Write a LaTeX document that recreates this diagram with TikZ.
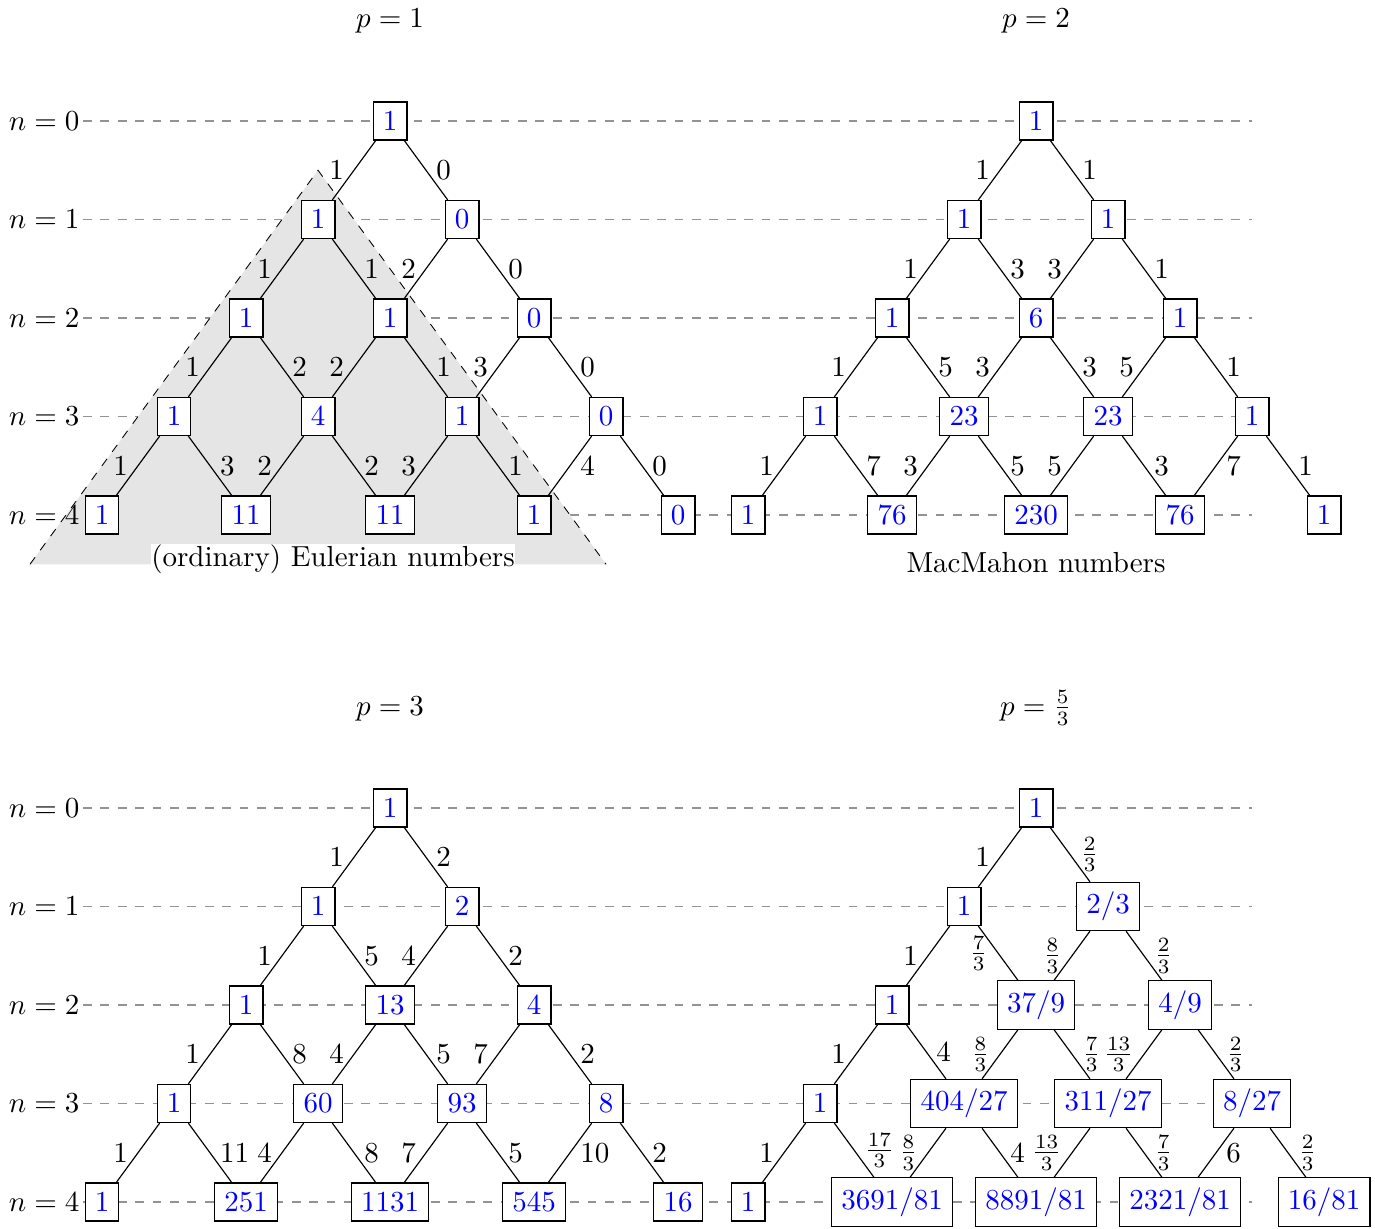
\documentclass[tikz,border=0pt]{standalone}
\pgfdeclarelayer{rowlayer}
\pgfdeclarelayer{trilayer}
\pgfsetlayers{rowlayer,trilayer,main}
\begin{document}
\begin{tikzpicture}[x=0.34483pt, y=-0.34483pt,
  val/.style={draw, fill=white, text=blue},
  rowline/.style={dashed, gray!85},
  lab/.style={midway, anchor=#1},
  title/.style={anchor=base}]
\useasboundingbox (0,0) rectangle (1375,1228);

% titles
\node[title] (tA) at (390,28) {$p=1$};
\node[title] (tB) at (1036,28) {$p=2$};
\node[title] (tC) at (390,715) {$p=3$};
\node[title] (tD) at (1036,715) {$p=\frac{5}{3}$};

% row labels and dashed row lines
\foreach \oy/\r in {121/u, 808/d} {
  \foreach \n in {0,...,4} {
    \pgfmathsetmacro\yy{\oy+98.5*\n}
    \node[anchor=east, inner sep=1pt] (row\r\n) at (83,\yy) {$n=\n$};
    \coordinate (end\r\n) at (1252,\yy);
    \begin{pgfonlayer}{rowlayer}
      \draw[rowline] (row\r\n.east) -- (end\r\n);
    \end{pgfonlayer}
  }
}

% grey triangle (ordinary Eulerian numbers)
\coordinate (triA) at (318,170.25);
\coordinate (triL) at (30,564.25);
\coordinate (triR) at (606,564.25);
\begin{pgfonlayer}{trilayer}
  \fill[gray!20] (triA) -- (triL) -- (triR) -- cycle;
  \draw[dashed, line width=0.3pt] (triL) -- (triA) -- (triR);
\end{pgfonlayer}
\node[anchor=base, fill=white, inner sep=0pt] (eul) at (333,566) {(ordinary) Eulerian numbers};
\node[anchor=base] (mac) at (1036,572) {MacMahon numbers};

% ---------- tree A : p = 1 ----------
\foreach \n/\k/\v in {0/0/1, 1/0/1, 1/1/0, 2/0/1, 2/1/1, 2/2/0, 3/0/1, 3/1/4, 3/2/1, 3/3/0,
                      4/0/1, 4/1/11, 4/2/11, 4/3/1, 4/4/0}
  \node[val] (A-\n-\k) at ({390-72*\n+144*\k},{121+98.5*\n}) {$\v$};
\foreach \n/\k/\a/\sa/\b/\sb in {0/0/1/east/0/west, 1/0/1/east/1/west, 1/1/2/east/0/west,
    2/0/1/east/2/west, 2/1/2/east/1/west, 2/2/3/east/0/west,
    3/0/1/east/3/west, 3/1/2/east/2/west, 3/2/3/east/1/west, 3/3/4/west/0/west} {
  \pgfmathtruncatemacro\m{\n+1}
  \pgfmathtruncatemacro\j{\k+1}
  \draw (A-\n-\k) -- node[lab=\sa] {$\a$} (A-\m-\k);
  \draw (A-\n-\k) -- node[lab=\sb] {$\b$} (A-\m-\j);
}

% ---------- tree B : p = 2 ----------
\foreach \n/\k/\v in {0/0/1, 1/0/1, 1/1/1, 2/0/1, 2/1/6, 2/2/1, 3/0/1, 3/1/23, 3/2/23, 3/3/1,
                      4/0/1, 4/1/76, 4/2/230, 4/3/76, 4/4/1}
  \node[val] (B-\n-\k) at ({1036-72*\n+144*\k},{121+98.5*\n}) {$\v$};
\foreach \n/\k/\a/\sa/\b/\sb in {0/0/1/east/1/west, 1/0/1/east/3/west, 1/1/3/east/1/west,
    2/0/1/east/5/west, 2/1/3/east/3/west, 2/2/5/east/1/west,
    3/0/1/east/7/west, 3/1/3/east/5/west, 3/2/5/east/3/west, 3/3/7/west/1/west} {
  \pgfmathtruncatemacro\m{\n+1}
  \pgfmathtruncatemacro\j{\k+1}
  \draw (B-\n-\k) -- node[lab=\sa] {$\a$} (B-\m-\k);
  \draw (B-\n-\k) -- node[lab=\sb] {$\b$} (B-\m-\j);
}

% ---------- tree C : p = 3 ----------
\foreach \n/\k/\v in {0/0/1, 1/0/1, 1/1/2, 2/0/1, 2/1/13, 2/2/4, 3/0/1, 3/1/60, 3/2/93, 3/3/8,
                      4/0/1, 4/1/251, 4/2/1131, 4/3/545, 4/4/16}
  \node[val] (C-\n-\k) at ({390-72*\n+144*\k},{808+98.5*\n}) {$\v$};
\foreach \n/\k/\a/\sa/\b/\sb in {0/0/1/east/2/west, 1/0/1/east/5/west, 1/1/4/east/2/west,
    2/0/1/east/8/west, 2/1/4/east/5/west, 2/2/7/east/2/west,
    3/0/1/east/11/west, 3/1/4/east/8/west, 3/2/7/east/5/west, 3/3/10/west/2/west} {
  \pgfmathtruncatemacro\m{\n+1}
  \pgfmathtruncatemacro\j{\k+1}
  \draw (C-\n-\k) -- node[lab=\sa] {$\a$} (C-\m-\k);
  \draw (C-\n-\k) -- node[lab=\sb] {$\b$} (C-\m-\j);
}

% ---------- tree D : p = 5/3 ----------
\foreach \n/\k/\v in {0/0/1, 1/0/1, 1/1/{2/3}, 2/0/1, 2/1/{37/9}, 2/2/{4/9},
                      3/0/1, 3/1/{404/27}, 3/2/{311/27}, 3/3/{8/27},
                      4/0/1, 4/1/{3691/81}, 4/2/{8891/81}, 4/3/{2321/81}, 4/4/{16/81}}
  \node[val] (D-\n-\k) at ({1036-72*\n+144*\k},{808+98.5*\n}) {$\v$};
\foreach \n/\k/\a/\sa/\b/\sb in {0/0/1/east/\frac{2}{3}/west,
    1/0/1/east/\frac{7}{3}/east, 1/1/\frac{8}{3}/east/\frac{2}{3}/west,
    2/0/1/east/4/west, 2/1/\frac{8}{3}/east/\frac{7}{3}/west, 2/2/\frac{13}{3}/east/\frac{2}{3}/west,
    3/0/1/east/\frac{17}{3}/west, 3/1/\frac{8}{3}/east/4/west,
    3/2/\frac{13}{3}/east/\frac{7}{3}/west, 3/3/6/west/\frac{2}{3}/west} {
  \pgfmathtruncatemacro\m{\n+1}
  \pgfmathtruncatemacro\j{\k+1}
  \draw (D-\n-\k) -- node[lab=\sa] {$\a$} (D-\m-\k);
  \draw (D-\n-\k) -- node[lab=\sb] {$\b$} (D-\m-\j);
}
\end{tikzpicture}
\end{document}
